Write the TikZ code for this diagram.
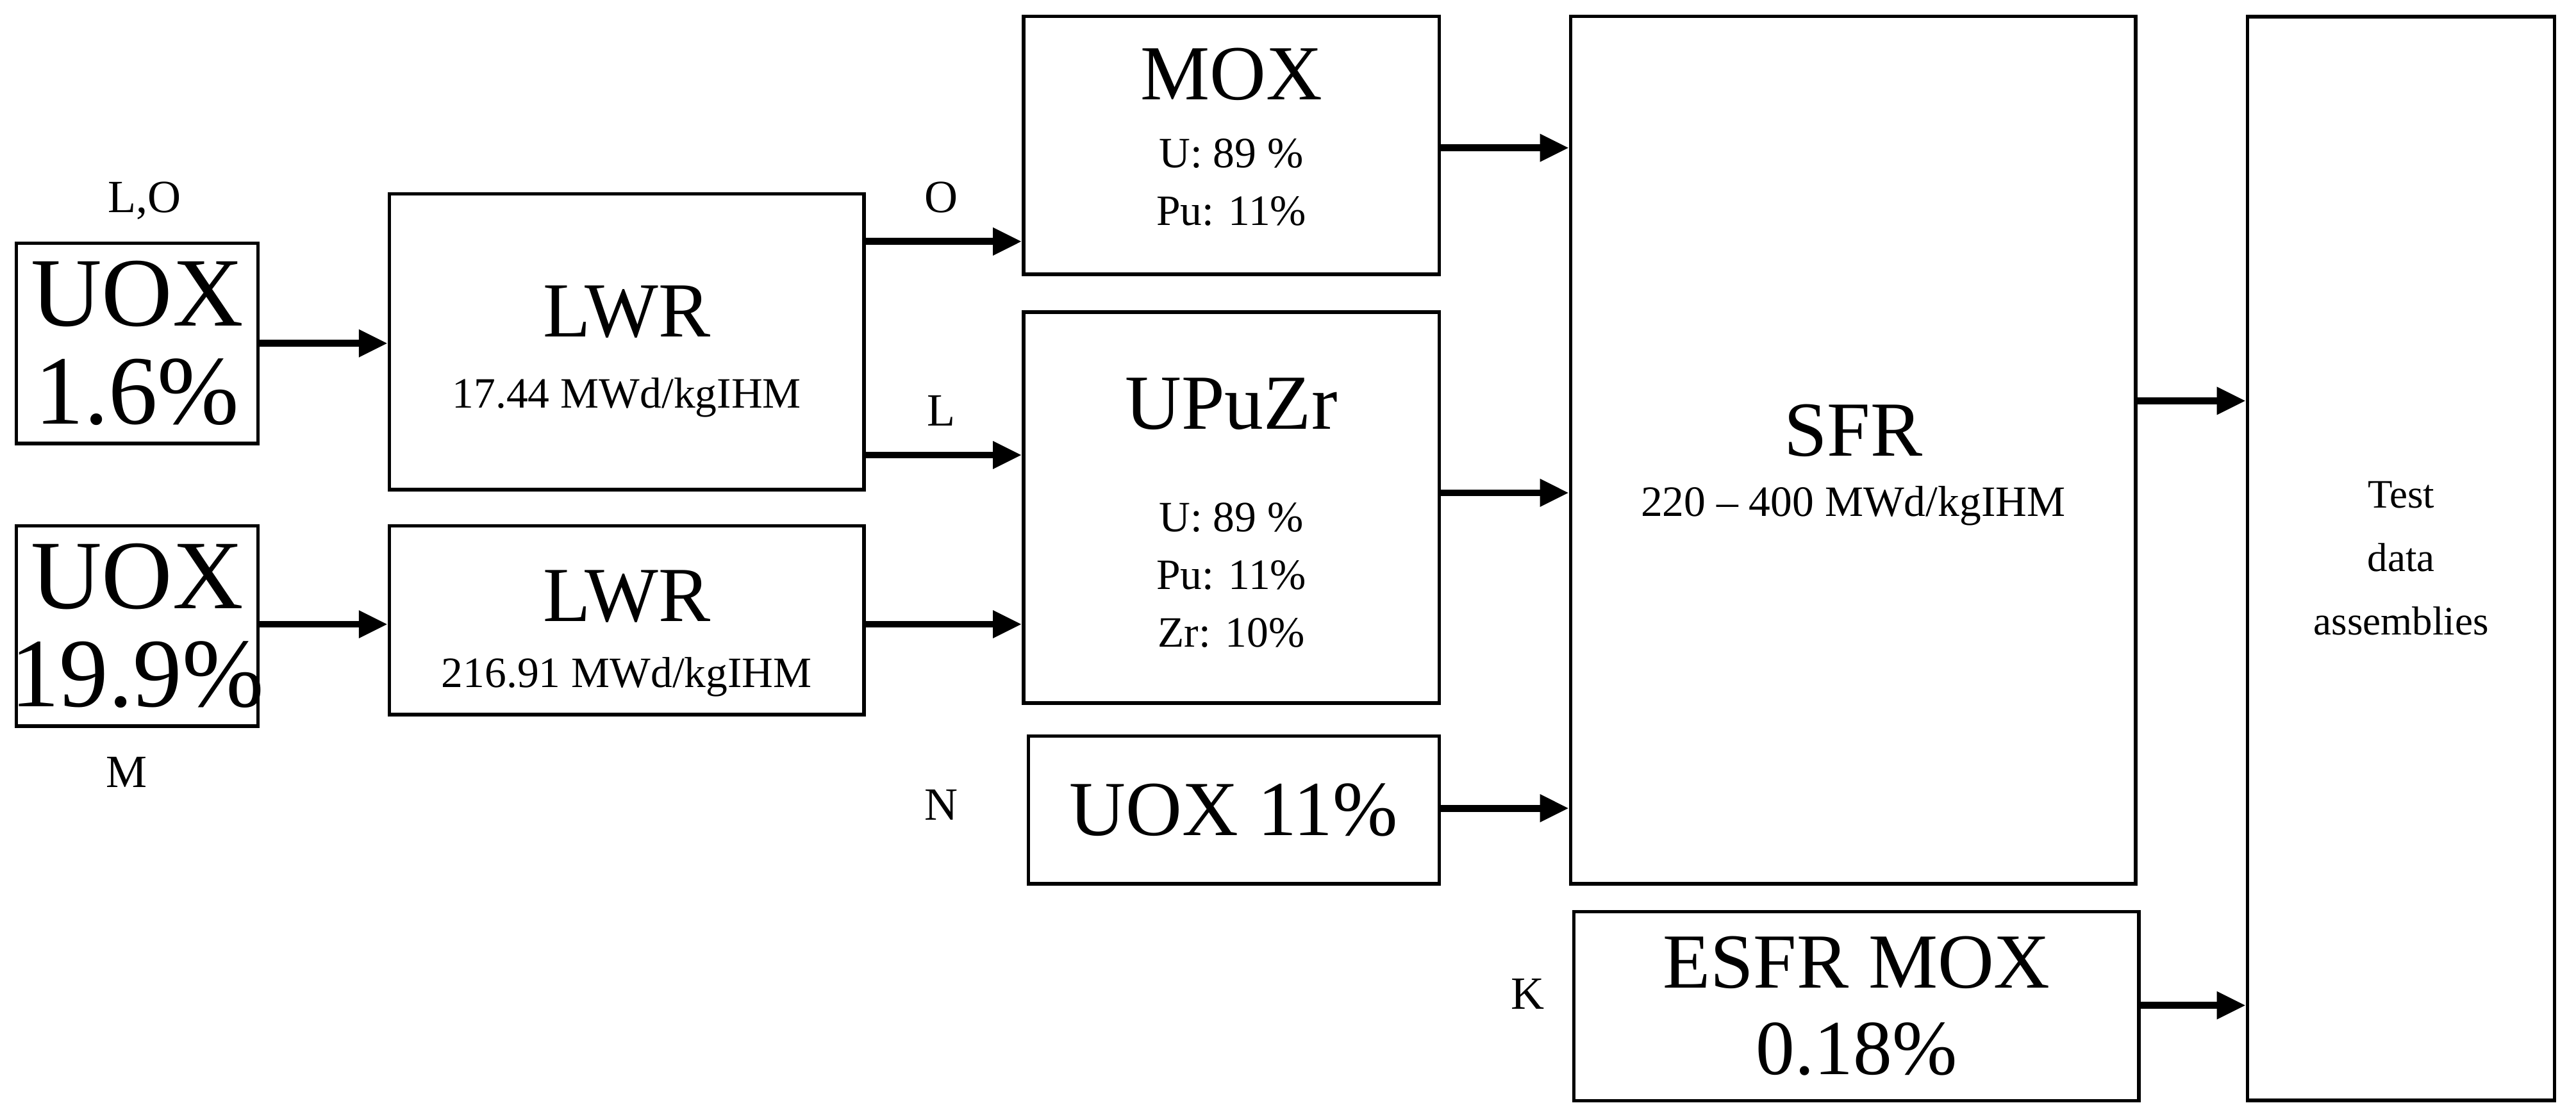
\documentclass[tikz,border=0pt]{standalone}
\usepackage{fontspec}
\setmainfont{Liberation Serif}
\usetikzlibrary{arrows.meta}
\begin{document}
\begin{tikzpicture}[x=0.02cm,y=0.02cm,
 box/.style={draw,line width=1.2pt,inner sep=0pt},
 arr/.style={line width=2.4pt,-{Triangle[length=10pt,width=9pt]}},
 big/.style={font=\fontsize{34}{38}\selectfont,align=center},
 mid/.style={font=\fontsize{27}{30}\selectfont},
 sm/.style={font=\fontsize{15}{20}\selectfont,align=center},
 lab/.style={font=\fontsize{16}{18}\selectfont}]
\useasboundingbox (0,0) rectangle (1568,-681);
\node[box,minimum width=2.94cm,minimum height=2.44cm] (u1) at (83.5,-209) {};
\node[big] (u1t) at (u1) {UOX\\[-4pt]1.6\%};
\node[box,minimum width=5.78cm,minimum height=3.6cm] (l1) at (381.5,-208) {};
\node[mid] (l1a) at (381.5,-190) {LWR};
\node[sm] (l1b) at (381.5,-242) {17.44 MWd/kgIHM};
\node[box,minimum width=2.94cm,minimum height=2.44cm] (u2) at (83.5,-381) {};
\node[big] (u2t) at (u2) {UOX\\[-4pt]19.9\%};
\node[box,minimum width=5.78cm,minimum height=2.3cm] (l2) at (381.5,-377.5) {};
\node[mid] (l2a) at (381.5,-363) {LWR};
\node[sm] (l2b) at (381.5,-412) {216.91 MWd/kgIHM};
\node[box,minimum width=5.06cm,minimum height=3.14cm] (mox) at (749.5,-88.5) {};
\node[mid] (moxa) at (749.5,-45) {MOX};
\node[sm] (moxb) at (749.5,-111) {U: 89 \%\\Pu: 11\%};
\node[box,minimum width=5.06cm,minimum height=4.76cm] (upu) at (749.5,-309) {};
\node[mid] (upua) at (749.5,-246) {UPuZr};
\node[sm] (upub) at (749.5,-350) {U: 89 \%\\Pu: 11\%\\Zr: 10\%};
\node[box,minimum width=5.0cm,minimum height=1.8cm] (u11) at (751,-493) {};
\node[mid] (u11t) at (u11) {UOX 11\%};
\node[box,minimum width=6.88cm,minimum height=10.56cm] (sfr) at (1128,-274) {};
\node[mid] (sfra) at (1128,-262) {SFR};
\node[sm] (sfrb) at (1128,-308) {220 – 400 MWd/kgIHM};
\node[box,minimum width=6.88cm,minimum height=2.3cm] (esfr) at (1130,-612.5) {};
\node[mid,align=center] (esfrt) at (esfr) {ESFR MOX\\0.18\%};
\node[box,minimum width=3.74cm,minimum height=13.2cm] (test) at (1461.5,-340) {};
\node[sm,font=\fontsize{14}{22}\selectfont] (testt) at (1461.5,-340) {Test\\data\\assemblies};
\node[lab] (lo) at (88,-122) {L,O};
\node[lab] (m) at (77,-470) {M};
\node[lab] (o) at (573,-120) {O};
\node[lab] (l) at (573,-250) {L};
\node[lab] (n) at (573,-490) {N};
\node[lab] (k) at (930,-605) {K};
\draw[arr] (u1.east) -- (u1.east -| l1.west);
\draw[arr] (u2.east |- 0,-380) -- (l2.west |- 0,-380);
\draw[arr] (l1.east |- 0,-147) -- (mox.west |- 0,-147);
\draw[arr] (l1.east |- 0,-277) -- (upu.west |- 0,-277);
\draw[arr] (l2.east |- 0,-380) -- (upu.west |- 0,-380);
\draw[arr] (mox.east |- 0,-90) -- (sfr.west |- 0,-90);
\draw[arr] (upu.east |- 0,-300) -- (sfr.west |- 0,-300);
\draw[arr] (u11.east |- 0,-492) -- (sfr.west |- 0,-492);
\draw[arr] (sfr.east |- 0,-244) -- (test.west |- 0,-244);
\draw[arr] (esfr.east |- 0,-612) -- (test.west |- 0,-612);
\end{tikzpicture}
\end{document}
